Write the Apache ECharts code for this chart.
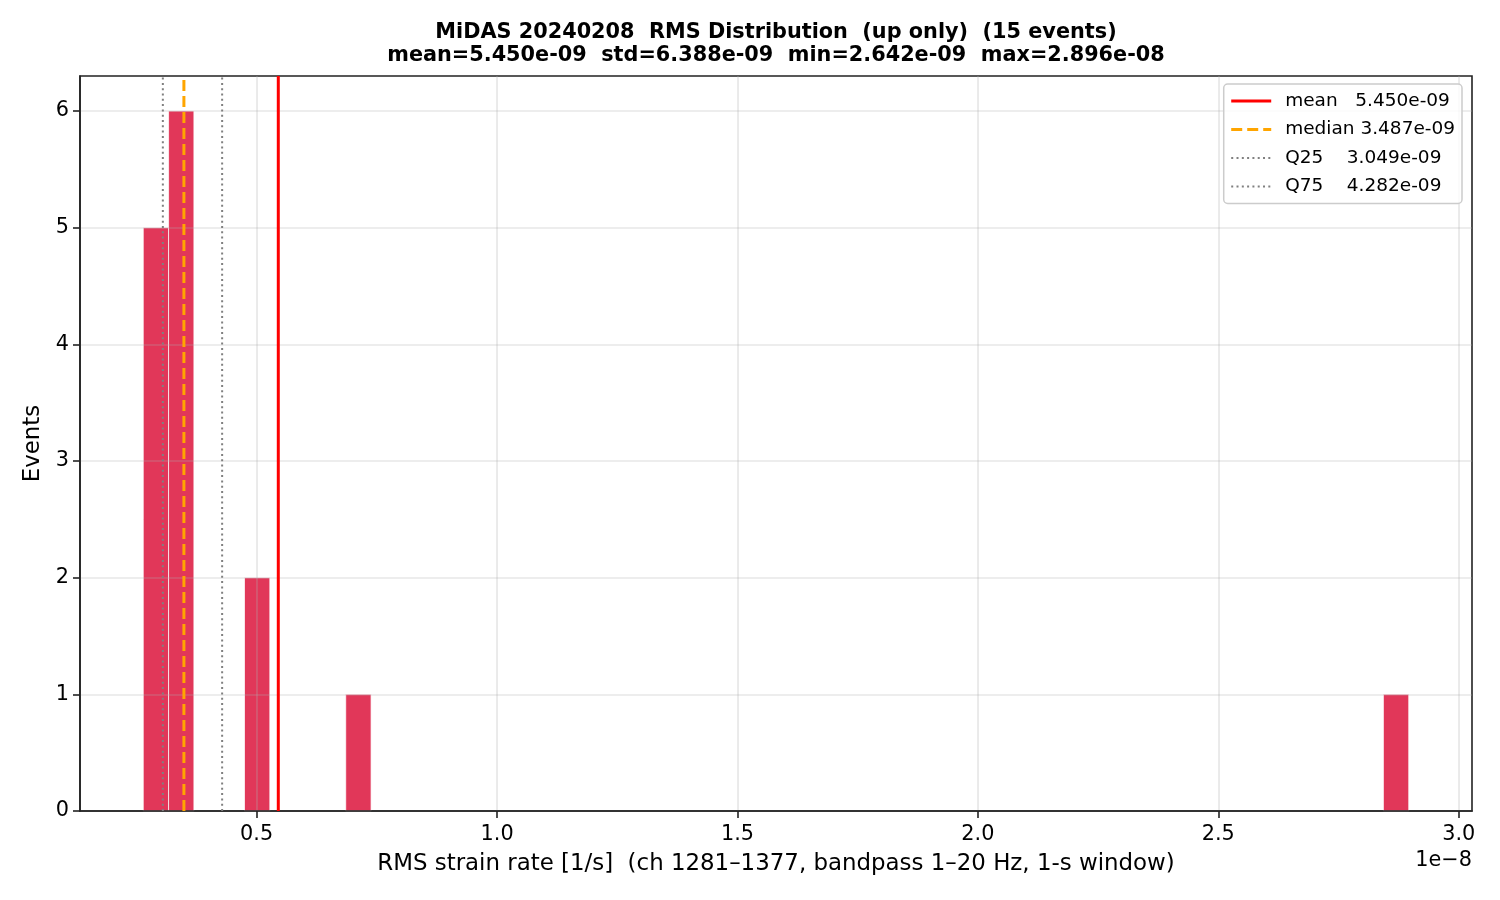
<!DOCTYPE html>
<html>
<head>
<meta charset="utf-8">
<script src="https://cdn.jsdelivr.net/npm/echarts@6/dist/echarts.min.js"></script>
<style>
  html, body { margin: 0; padding: 0; background: #fff; }
  #chart { width: 1500px; height: 900px; }
</style>
</head>
<body>
<div id="chart"></div>
<script>
// axis unit (offset label "1e-8")
const SCALE = 1e-8;

// histogram: 50 bins from min to max, only the filled bins listed
const binStart = 2.642e-9;
const binWidth = 5.2636e-10;
const binIndex = [0, 1, 4, 8, 49];
const binCount = [5, 6, 2, 1, 1];

// summary lines
const statNames = ['mean', 'median', 'Q25', 'Q75'];
const statValues = [5.450e-9, 3.487e-9, 3.049e-9, 4.282e-9];
const statLabels = ['mean   5.450e-09', 'median 3.487e-09', 'Q25    3.049e-09', 'Q75    4.282e-09'];

// ticks
const xTicks = [0.5, 1.0, 1.5, 2.0, 2.5, 3.0];
const yTicks = [0, 1, 2, 3, 4, 5, 6];

const FONT = '"DejaVu Sans", Verdana, sans-serif';
const xMin = 0.1326, xMax = 3.0276;
const yMin = 0, yMax = 6.3;

const bars = binIndex.map((b, i) => {
  const left = (binStart + b * binWidth) / SCALE;
  const right = (binStart + (b + 1) * binWidth) / SCALE;
  return [left, right, binCount[i]];
});

const lineStyles = [
  { color: '#ff0000', width: 3, type: 'solid' },
  { color: '#ffa500', width: 3, type: [11, 5] },
  { color: '#808080', width: 2, type: [2, 3.3] },
  { color: '#808080', width: 2, type: [2, 3.3] }
];

const statSeries = statValues.map((v, i) => ({
  name: statLabels[i],
  type: 'line',
  symbol: 'none',
  silent: true,
  z: 5,
  lineStyle: lineStyles[i],
  itemStyle: { color: lineStyles[i].color },
  data: [[v / SCALE, yMin], [v / SCALE, yMax]]
}));

const chart = echarts.init(document.getElementById('chart'), null, { renderer: 'canvas' });

chart.setOption({
  animation: false,
  backgroundColor: '#fff',
  textStyle: { fontFamily: FONT },
  grid: {
    left: 80, right: 28, top: 76, bottom: 89,
    show: true, borderColor: '#222', borderWidth: 1.6, backgroundColor: 'transparent'
  },
  graphic: [
    {
      type: 'text', x: 776, y: 33, z: 10,
      style: {
        text: 'MiDAS 20240208  RMS Distribution  (up only)  (15 events)',
        fontSize: 20.8, fontWeight: 'bold', fontFamily: FONT, fill: '#000',
        textAlign: 'center', textVerticalAlign: 'middle'
      }
    },
    {
      type: 'text', x: 776, y: 56, z: 10,
      style: {
        text: 'mean=5.450e-09  std=6.388e-09  min=2.642e-09  max=2.896e-08',
        fontSize: 20.8, fontWeight: 'bold', fontFamily: FONT, fill: '#000',
        textAlign: 'center', textVerticalAlign: 'middle'
      }
    },
    {
      type: 'text', x: 1472, y: 861, z: 10,
      style: {
        text: '1e\u22128', fontSize: 20.8, fontFamily: FONT, fill: '#000',
        textAlign: 'right', textVerticalAlign: 'middle'
      }
    }
  ],
  legend: {
    orient: 'vertical',
    align: 'left',
    right: 38, top: 84,
    padding: [7, 7, 7, 6],
    itemWidth: 40, itemHeight: 14, itemGap: 8.5, itemTextGap: 14,
    backgroundColor: 'rgba(255,255,255,0.8)',
    borderColor: '#cccccc', borderWidth: 1.5, borderRadius: 4,
    itemStyle: { opacity: 0 },
    textStyle: { fontSize: 18.5, fontFamily: FONT, color: '#000', lineHeight: 20, padding: [0, 0, 0, 9] },
    data: statLabels.map((n, i) => ({ name: n, lineStyle: { width: lineStyles[i].width } }))
  },
  xAxis: {
    type: 'value', min: xMin, max: xMax, z: 3,
    name: 'RMS strain rate [1/s]  (ch 1281\u20131377, bandpass 1\u201320 Hz, 1-s window)',
    nameLocation: 'middle', nameGap: 42,
    nameTextStyle: { fontSize: 22.9, color: '#000', fontFamily: FONT },
    axisLine: { show: true, onZero: false, lineStyle: { color: '#222', width: 1.6 } },
    axisTick: { show: true, length: 7, customValues: xTicks, lineStyle: { color: '#222', width: 1.6 } },
    axisLabel: {
      customValues: xTicks, margin: 13, fontSize: 20.8, color: '#000', fontFamily: FONT,
      formatter: v => v.toFixed(1)
    },
    splitLine: { show: true, lineStyle: { color: 'rgba(176,176,176,0.3)', width: 1.7 } }
  },
  yAxis: {
    type: 'value', min: yMin, max: yMax, z: 3,
    name: 'Events', nameLocation: 'middle', nameGap: 31,
    nameTextStyle: { fontSize: 22.9, color: '#000', fontFamily: FONT },
    axisLine: { show: true, lineStyle: { color: '#222', width: 1.6 } },
    axisTick: { show: true, length: 7, customValues: yTicks, lineStyle: { color: '#222', width: 1.6 } },
    axisLabel: {
      customValues: yTicks, margin: 11, fontSize: 20.8, color: '#000', fontFamily: FONT,
      formatter: v => String(Math.round(v))
    },
    splitLine: { show: true, lineStyle: { color: 'rgba(176,176,176,0.3)', width: 1.7 } }
  },
  series: [
    {
      name: 'hist',
      type: 'custom',
      z: 2,
      silent: true,
      data: bars,
      renderItem: (params, api) => {
        const p0 = api.coord([api.value(0), api.value(2)]);
        const p1 = api.coord([api.value(1), 0]);
        return {
          type: 'rect',
          shape: { x: p0[0], y: p0[1], width: p1[0] - p0[0], height: p1[1] - p0[1] },
          style: { fill: 'rgba(220,20,60,0.85)', stroke: 'rgba(255,255,255,0.7)', lineWidth: 1 }
        };
      }
    },
    ...statSeries
  ]
});
</script>
</body>
</html>
